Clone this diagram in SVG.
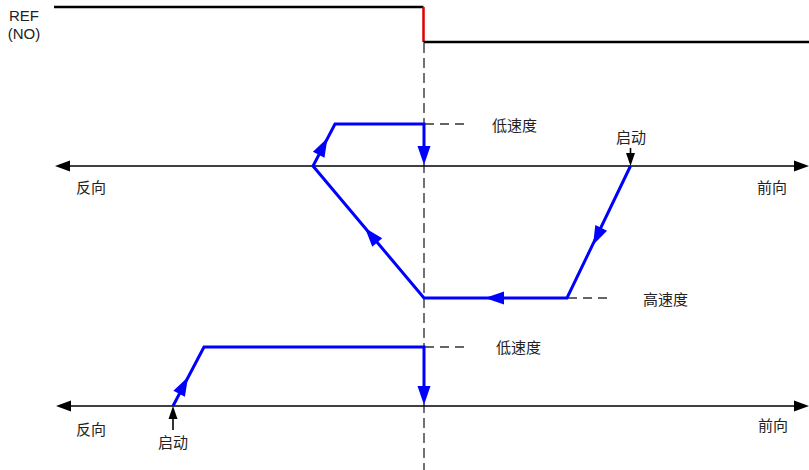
<svg xmlns="http://www.w3.org/2000/svg" xmlns:xlink="http://www.w3.org/1999/xlink" width="809" height="470" viewBox="0 0 809 470">
<style>
.sig{fill:none;stroke:#000;stroke-width:2.5}
.red{fill:none;stroke:#e00000;stroke-width:2.5}
.vdash{fill:none;stroke:#444;stroke-width:1.5;stroke-dasharray:10,5}
.hdash{fill:none;stroke:#333;stroke-width:1.3;stroke-dasharray:9,6}
.axis{fill:none;stroke:#000;stroke-width:1.6}
.path{fill:none;stroke:#0000ff;stroke-width:3;stroke-linejoin:miter}
.lbl{font-family:"Noto Sans CJK SC","Noto Sans",sans-serif;font-size:15px;fill:#222}
.ref{font-family:"Liberation Sans",Arial,sans-serif;font-size:15px;fill:#222;text-anchor:middle}
</style>
<defs>
<polygon id="bh" points="0,0 -19,-6.5 -19,6.5" fill="#0000ff"/>
<polygon id="kh" points="0,0 -15,-5.5 -15,5.5" fill="#000"/>
<polygon id="sh" points="0,0 -13,-4.5 -13,4.5" fill="#000"/>
</defs>
<rect width="809" height="470" fill="#fff"/>
<g id="ref-signal">
<text class="ref" x="24" y="21">REF</text>
<text class="ref" x="24" y="39">(NO)</text>
<path class="sig" d="M54,7 H423.5"/>
<path class="red" d="M423.5,7 V42"/>
<path class="sig" d="M423.5,42 H809"/>
</g>
<g id="reference-line">
<path class="vdash" d="M424,43 V470"/>
</g>
<g id="axis-top">
<path class="axis" d="M60,166 H804"/>
<use xlink:href="#kh" transform="translate(55,166) rotate(180)"/>
<use xlink:href="#kh" transform="translate(809,166)"/>
<text class="lbl" x="76" y="193">反向</text>
<text class="lbl" x="757" y="193">前向</text>
</g>
<g id="axis-bottom">
<path class="axis" d="M60,406 H804"/>
<use xlink:href="#kh" transform="translate(56,406) rotate(180)"/>
<use xlink:href="#kh" transform="translate(809,406)"/>
<text class="lbl" x="76" y="435">反向</text>
<text class="lbl" x="758" y="431">前向</text>
</g>
<g id="start-top">
<path class="axis" d="M630.5,148 V156"/>
<use xlink:href="#sh" transform="translate(630.5,166) rotate(90)"/>
<text class="lbl" x="616" y="143">启动</text>
</g>
<g id="start-bottom">
<path class="axis" d="M173,418 V430"/>
<use xlink:href="#sh" transform="translate(173,406) rotate(-90)"/>
<text class="lbl" x="158" y="448">启动</text>
</g>
<g id="speed-labels">
<path class="hdash" d="M425,124 H465"/>
<text class="lbl" x="492" y="131">低速度</text>
<path class="hdash" d="M568,298 H613"/>
<text class="lbl" x="643" y="305">高速度</text>
<path class="hdash" d="M425,347 H466"/>
<text class="lbl" x="496" y="353">低速度</text>
</g>
<g id="connectors">
<path class="path" d="M630.5,166 L567,298 H424 L313,166 L335,124 H424 V150"/>
<use xlink:href="#bh" transform="translate(593,245) rotate(115.5)"/>
<use xlink:href="#bh" transform="translate(485,298) rotate(180)"/>
<use xlink:href="#bh" transform="translate(365,228) rotate(-130.1)"/>
<use xlink:href="#bh" transform="translate(327.5,138) rotate(-62.4)"/>
<use xlink:href="#bh" transform="translate(424,165) rotate(90)"/>
<path class="path" d="M173,406 L204,347 H424 V390"/>
<use xlink:href="#bh" transform="translate(188,377) rotate(-62.3)"/>
<use xlink:href="#bh" transform="translate(424,405) rotate(90)"/>
</g>
</svg>
